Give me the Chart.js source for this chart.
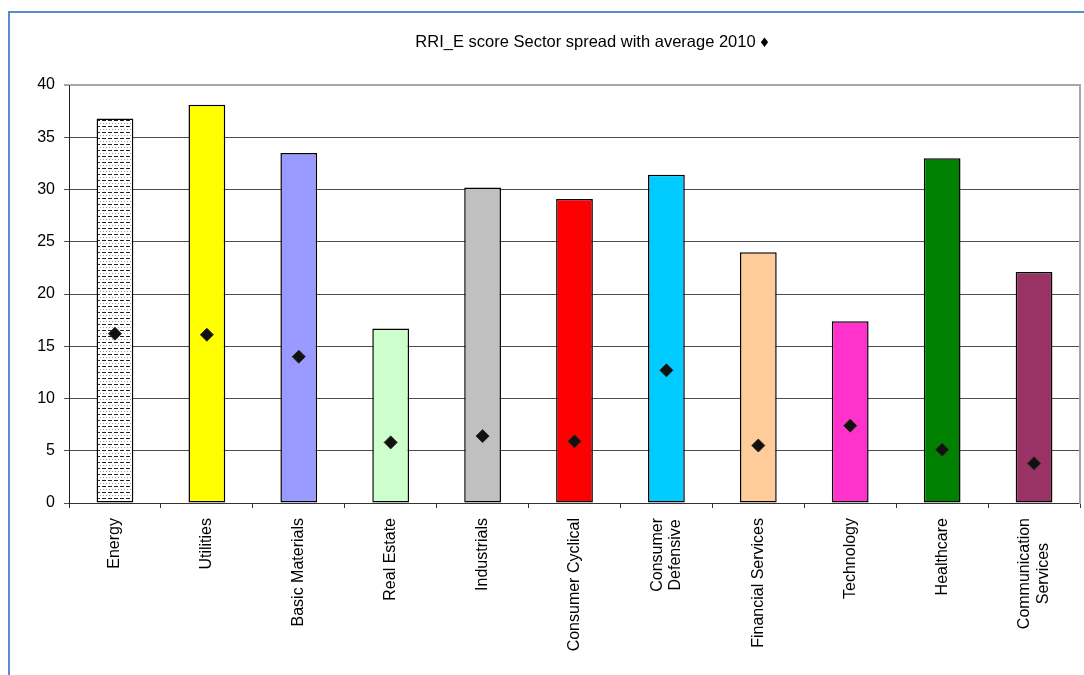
<!DOCTYPE html>
<html>
<head>
<meta charset="utf-8">
<script src="https://cdn.jsdelivr.net/npm/chart.js@4.4.1/dist/chart.umd.min.js"></script>
<style>
  html, body { margin: 0; padding: 0; background: #ffffff; overflow: hidden; width: 1084px; height: 675px; }
  #frame { position: absolute; left: 8px; top: 11px; width: 1100px; height: 700px;
           border-left: 2px solid #5B8BCB; border-top: 2px solid #5B8BCB; }
  #wrap { position: absolute; left: 0; top: 0; width: 1184px; height: 675px; }
</style>
</head>
<body>
<div id="frame"></div>
<div id="wrap"><canvas id="c" width="1184" height="675"></canvas></div>
<script>
const categories = ["Energy", "Utilities", "Basic Materials", "Real Estate", "Industrials",
  "Consumer Cyclical", ["Consumer", "Defensive"], "Financial Services", "Technology",
  "Healthcare", ["Communication", "Services"]];
const sectorScores = [36.8, 38.1, 33.5, 16.7, 30.2, 29.1, 31.4, 24.0, 17.4, 33.0, 22.1];
const sectorAverages = [16.2, 16.1, 14.0, 5.8, 6.4, 5.9, 12.7, 5.5, 7.4, 5.1, 3.8];
const yTicks = [0, 5, 10, 15, 20, 25, 30, 35, 40];
const chartTitle = "RRI_E score Sector spread with average 2010 \u2666";

function makePattern() {
  const t = document.createElement('canvas');
  t.width = 6; t.height = 6;
  const g = t.getContext('2d');
  g.fillStyle = '#ffffff'; g.fillRect(0, 0, 6, 6);
  g.fillStyle = '#222222'; g.fillRect(0, 0, 4, 1);
  g.fillStyle = '#9a9a9a'; g.fillRect(1, 3, 1, 1); g.fillRect(4, 3, 1, 1);
  return document.getElementById('c').getContext('2d').createPattern(t, 'repeat');
}
const barColors = [makePattern(), '#FFFF00', '#9999FF', '#CCFFCC', '#C0C0C0', '#FF0000',
  '#00CCFF', '#FFCC99', '#FF33CC', '#008000', '#993366'];

const FONT = 'Liberation Sans, Arial, sans-serif';

// Category labels drawn at the x scale's tick positions, rotated, lines centred on each other
const sectorLabelPlugin = {
  id: 'sectorLabels',
  afterDraw(chart) {
    const scale = chart.scales.x;
    const ctx = chart.ctx;
    const lh = 18.4;
    const topY = scale.top + 15;
    ctx.save();
    ctx.font = '16px ' + FONT;
    ctx.fillStyle = '#000000';
    ctx.textBaseline = 'middle';
    ctx.textAlign = 'right';
    chart.data.labels.forEach((lab, i) => {
      const lines = Array.isArray(lab) ? lab : [lab];
      const px = scale.getPixelForTick(i);
      const widths = lines.map(l => ctx.measureText(l).width);
      const maxW = Math.max(...widths);
      lines.forEach((line, j) => {
        const x = px + (j - (lines.length - 1) / 2) * lh;
        const y = topY + (maxW - widths[j]) / 2;
        ctx.save();
        ctx.translate(x, y);
        ctx.rotate(-Math.PI / 2);
        ctx.fillText(line, 0, 0);
        ctx.restore();
      });
    });
    ctx.restore();
  }
};

new Chart(document.getElementById('c'), {
  data: {
    labels: categories,
    datasets: [
      {
        type: 'line',
        label: 'Average 2010',
        data: sectorAverages,
        showLine: false,
        pointStyle: 'rectRot',
        pointRadius: 6.5,
        pointBackgroundColor: '#111111',
        pointBorderColor: '#2a2a1a',
        pointBorderWidth: 1,
        order: 0
      },
      {
        type: 'bar',
        label: 'RRI_E score',
        data: sectorScores,
        backgroundColor: barColors,
        borderColor: '#000000',
        borderWidth: 1.5,
        borderSkipped: false,
        barPercentage: 0.4,
        categoryPercentage: 1.0,
        order: 1
      }
    ]
  },
  plugins: [sectorLabelPlugin],
  options: {
    responsive: false,
    animation: false,
    events: [],
    layout: { padding: { left: 0, right: 0, top: 0, bottom: 0 } },
    plugins: {
      legend: { display: false },
      tooltip: { enabled: false },
      title: {
        display: true,
        text: chartTitle,
        color: '#000000',
        font: { family: FONT, size: 16.5, weight: 'normal' },
        padding: { top: 33, bottom: 32.2 }
      }
    },
    scales: {
      x: {
        offset: true,
        grid: { display: true, drawOnChartArea: false, drawTicks: true, tickLength: 5, color: '#333333', offset: true },
        border: { display: true, color: '#333333', width: 1 },
        ticks: { display: false },
        afterFit: (s) => { s.height = 172; }
      },
      y: {
        min: 0, max: 40,
        afterBuildTicks: (s) => { s.ticks = yTicks.map(v => ({ value: v })); },
        grid: {
          color: (ctx) => ctx.tick && ctx.tick.value === 40 ? '#a6a6a6' : '#4d4d4d',
          lineWidth: (ctx) => ctx.tick && ctx.tick.value === 40 ? 2 : 1,
          drawTicks: true, tickLength: 5
        },
        border: { display: true, color: '#222222', width: 1 },
        ticks: { color: '#000000', padding: 9, font: { family: FONT, size: 16 } },
        afterFit: (s) => { s.width = 69; }
      },
      yR: {
        position: 'right',
        min: 0, max: 40,
        grid: { display: false },
        ticks: { display: false },
        border: { display: true, color: '#a6a6a6', width: 2 },
        afterFit: (s) => { s.width = 104; }
      }
    }
  }
});
</script>
</body>
</html>
